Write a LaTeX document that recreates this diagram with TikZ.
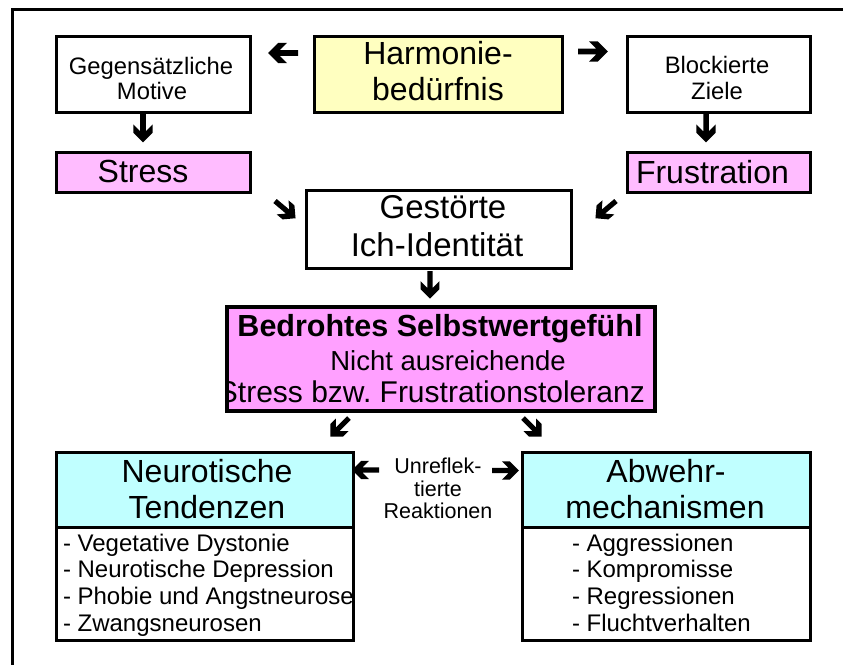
\documentclass[tikz,border=0pt]{standalone}
\usepackage{fontspec}
\setmainfont{Liberation Sans}
\definecolor{yel}{RGB}{255,255,192}
\definecolor{pinkA}{RGB}{255,188,255}
\definecolor{pinkB}{RGB}{255,160,255}
\definecolor{cyanA}{RGB}{192,255,255}
\frenchspacing
\begin{document}
\begin{tikzpicture}[x=1pt,y=-1pt,
  box/.style={draw=black, line width=3pt, inner sep=0pt, outer sep=0pt},
  t/.style={anchor=base, inner sep=0pt, outer sep=0pt},
  tl/.style={anchor=base west, inner sep=0pt, outer sep=0pt},
  big/.style={font=\fontsize{32}{36}\selectfont},
  med/.style={font=\fontsize{23.8}{28}\selectfont},
  lst/.style={font=\fontsize{24}{28}\selectfont},
  sml/.style={font=\fontsize{21.5}{24}\selectfont},
  barr/.pic={\fill[black] (0,-2.9) -- (18.3,-2.9) -- (11,-10.2) -- (19.6,-10.2) -- (29.8,0)
     -- (19.6,10.2) -- (11,10.2) -- (18.3,2.9) -- (0,2.9) -- cycle;},
]
\useasboundingbox (0,0) rectangle (843,665);
% outer frame
\draw[line width=3pt] (843,9) -- (12,9) -- (12,665);

% boxes
\node[box, minimum width=194pt, minimum height=76pt] (geg) at (153,74) {};
\node[box, fill=yel, minimum width=248pt, minimum height=76pt] (harm) at (438,74) {};
\node[box, minimum width=183pt, minimum height=76pt] (blo) at (718.5,74) {};
\node[box, fill=pinkA, minimum width=194pt, minimum height=40pt] (str) at (153,172) {};
\node[box, fill=pinkA, minimum width=183pt, minimum height=40pt] (fru) at (718.5,172) {};
\node[box, minimum width=265pt, minimum height=78pt] (ges) at (438.5,229) {};
\node[box, fill=pinkB, line width=3.5pt, minimum width=428pt, minimum height=104pt] (bed) at (441,359) {};
\node[box, fill=cyanA, minimum width=297pt, minimum height=75pt] (neuT) at (204.5,489.5) {};
\node[box, minimum width=297pt, minimum height=113pt] (neuL) at (204.5,583.5) {};
\node[box, fill=cyanA, minimum width=288pt, minimum height=75pt] (abwT) at (666,489.5) {};
\node[box, minimum width=288pt, minimum height=113pt] (abwL) at (666,583.5) {};

% texts
\node[t, med] (gegA) at (151,74) {Gegensätzliche};
\node[t, med] (gegB) at (152,99.5) {Motive};
\node[t, big] (harmA) at (438,64) {Harmonie-};
\node[t, big] (harmB) at (438,100) {bedürfnis};
\node[t, med] (bloA) at (717,73) {Blockierte};
\node[t, med] (bloB) at (717,99) {Ziele};
\node[t, big] (strA) at (143,182) {Stress};
\begin{scope}
  \clip (fru.north west) rectangle (fru.south east);
  \node[tl, big] (fruA) at (636,183) {Frustration};
\end{scope}
\node[t, font=\fontsize{33}{36}\selectfont] (gesA) at (443,218) {Gestörte};
\node[t, font=\fontsize{33}{36}\selectfont] (gesB) at (437,256) {Ich-Identität};
\begin{scope}
  \clip (bed.north west) rectangle (bed.south east);
  \node[t, font=\fontsize{30.5}{36}\bfseries] (bedA) at (440,336) {Bedrohtes Selbstwertgefühl};
  \node[t, font=\fontsize{27.5}{34}\selectfont] (bedB) at (448,370) {Nicht ausreichende};
  \node[anchor=base east, inner sep=0pt, font=\fontsize{30}{34}\selectfont] (bedC) at (645,402) {Stress bzw. Frustrationstoleranz};
\end{scope}
\node[t, big] (neuA) at (207,482) {Neurotische};
\node[t, big] (neuB) at (207,518) {Tendenzen};
\begin{scope}
  \clip (neuL.north west) rectangle (neuL.south east);
  \node[tl, lst] (neu1) at (63,551) {- Vegetative Dystonie};
  \node[tl, lst] (neu2) at (63,577.5) {- Neurotische Depression};
  \node[tl, lst] (neu3) at (63,604.5) {- Phobie und Angstneurose};
  \node[tl, lst] (neu4) at (63,631.5) {- Zwangsneurosen};
\end{scope}
\node[t, big] (abwA) at (666,482) {Abwehr-};
\node[t, big] (abwB) at (665,518) {mechanismen};
\node[tl, lst] (abw1) at (572,551) {- Aggressionen};
\node[tl, lst] (abw2) at (572,577.5) {- Kompromisse};
\node[tl, lst] (abw3) at (572,604.5) {- Regressionen};
\node[tl, lst] (abw4) at (572,631.5) {- Fluchtverhalten};
\node[t, sml] (unA) at (438,473) {Unreflek-};
\node[t, sml] (unB) at (438,496) {tierte};
\node[t, sml] (unC) at (438,518) {Reaktionen};

% block arrows (tail positions)
\coordinate (a1) at (298,53);
\coordinate (a2) at (578,51.5);
\coordinate (a3) at (143,114);
\coordinate (a4) at (706,114);
\coordinate (a5) at (275,201);
\coordinate (a6) at (616,201);
\coordinate (a7) at (430,271);
\coordinate (a8) at (349,418);
\coordinate (a9) at (523,418);
\coordinate (a10) at (379,470);
\coordinate (a11) at (492,470.5);
\pic[rotate=180] at (a1) {barr};
\pic at (a2) {barr};
\pic[rotate=-90, scale=0.95] at (a3) {barr};
\pic[rotate=-90, scale=0.95] at (a4) {barr};
\pic[rotate=-40, scale=0.9] at (a5) {barr};
\pic[rotate=-140, scale=0.9] at (a6) {barr};
\pic[rotate=-90, scale=0.93] at (a7) {barr};
\pic[rotate=-135, scale=0.88] at (a8) {barr};
\pic[rotate=-45, scale=0.88] at (a9) {barr};
\pic[rotate=180, scale=0.9] at (a10) {barr};
\pic[scale=0.9] at (a11) {barr};
\end{tikzpicture}
\end{document}
